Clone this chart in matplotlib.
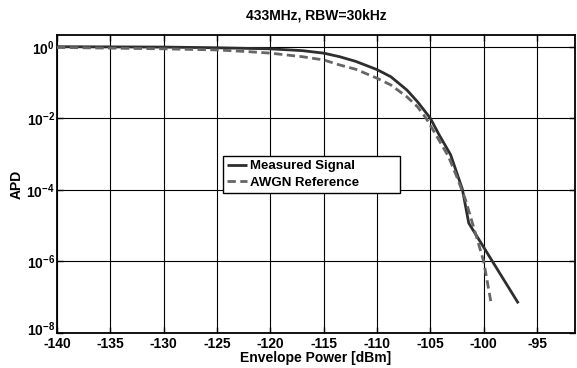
import matplotlib
matplotlib.use("Agg")
import matplotlib.pyplot as plt
import matplotlib.transforms as mtrans
import numpy as np

title = "433MHz, RBW=30kHz"
xlabel = "Envelope Power [dBm]"
ylabel = "APD"

meas_x = [-140, -130, -125, -120, -117, -115, -113.5, -112, -110, -108.7, -107.2, -106.2,
          -105, -104.2, -103.1, -102.0, -101.4, -96.75]
meas_logy = [0.0, -0.01, -0.03, -0.06, -0.11, -0.18, -0.28, -0.41, -0.64, -0.84, -1.21, -1.54,
             -2.0, -2.45, -3.02, -3.98, -4.93, -7.17]

awgn_x = [-140, -130, -125, -122, -120, -117, -115, -113.5, -112, -110, -108.7, -107.2, -106.2,
          -105.4, -104.5, -103.3, -102.5, -101.7, -100.5, -100.0, -99.3]
awgn_logy = [-0.02, -0.06, -0.09, -0.14, -0.18, -0.28, -0.37, -0.51, -0.63, -0.88, -1.07, -1.40, -1.68,
             -2.0, -2.45, -3.07, -3.65, -4.28, -5.49, -6.0, -7.17]

xticks = [-140, -135, -130, -125, -120, -115, -110, -105, -100, -95]
yexp = [0, -2, -4, -6, -8]

plt.rcParams['font.family'] = ['Liberation Sans', 'DejaVu Sans']
plt.rcParams['font.weight'] = 'bold'
plt.rcParams['mathtext.fontset'] = 'custom'
plt.rcParams['mathtext.rm'] = 'Liberation Sans:bold'
plt.rcParams['mathtext.bf'] = 'Liberation Sans:bold'
plt.rcParams['mathtext.it'] = 'Liberation Sans:bold'
plt.rcParams['mathtext.default'] = 'bf'

fig = plt.figure(figsize=(5.77, 3.68), dpi=100)
ax = fig.add_axes([57/577, 1-333/368, 518/577, 298/368])

ax.semilogy(meas_x, 10**np.array(meas_logy), color='#2e2e2e', lw=2.0, solid_capstyle='butt',
            label='Measured Signal', zorder=3)
ax.semilogy(awgn_x, 10**np.array(awgn_logy), color='#666666', lw=2.0, ls=(0, (3, 1.6)),
            label='AWGN Reference', zorder=3)

ax.set_xlim(-140, -91.44)
ax.set_ylim(1e-8, 10**0.327)
ax.set_xticks(xticks)
ax.set_xticklabels([str(t) for t in xticks])
ax.set_yticks([10.0**e for e in yexp])
ax.set_yticklabels([r'$10^{%d}$' % e for e in yexp])
ax.yaxis.set_minor_locator(matplotlib.ticker.NullLocator())
ax.grid(True, color='black', lw=0.8, ls='-')
ax.tick_params(axis='both', which='major', direction='in', length=4, width=1,
               top=True, right=True, labelsize=10)
ax.tick_params(axis='x', pad=3)
ax.tick_params(axis='y', pad=1.5)
for s in ax.spines.values():
    s.set_linewidth(1.3)

# nudge the lowest y tick label up a little so it clears the first x label
fig.canvas.draw()
ylabels = ax.get_yticklabels()
off = mtrans.ScaledTranslation(0, 5/100, fig.dpi_scale_trans)
ylabels[-1].set_transform(ylabels[-1].get_transform() + off)

ax.set_title(title, fontsize=10, fontweight='bold', pad=11)
ax.set_xlabel(xlabel, fontsize=10, fontweight='bold', labelpad=0)
ax.set_ylabel(ylabel, fontsize=10, fontweight='bold', labelpad=2)

leg = ax.legend(loc='upper left', bbox_to_anchor=(0.3205, 0.466, 0.3416, 0.128), mode='expand',
                fontsize=9.5, frameon=True, fancybox=False, edgecolor='black', framealpha=1,
                handlelength=1.5, handletextpad=0.25, borderpad=0.3, labelspacing=0.35,
                borderaxespad=0)
leg.get_frame().set_linewidth(1.0)
for t in leg.get_texts():
    t.set_fontweight('bold')

fig.savefig('out.png', dpi=100)
